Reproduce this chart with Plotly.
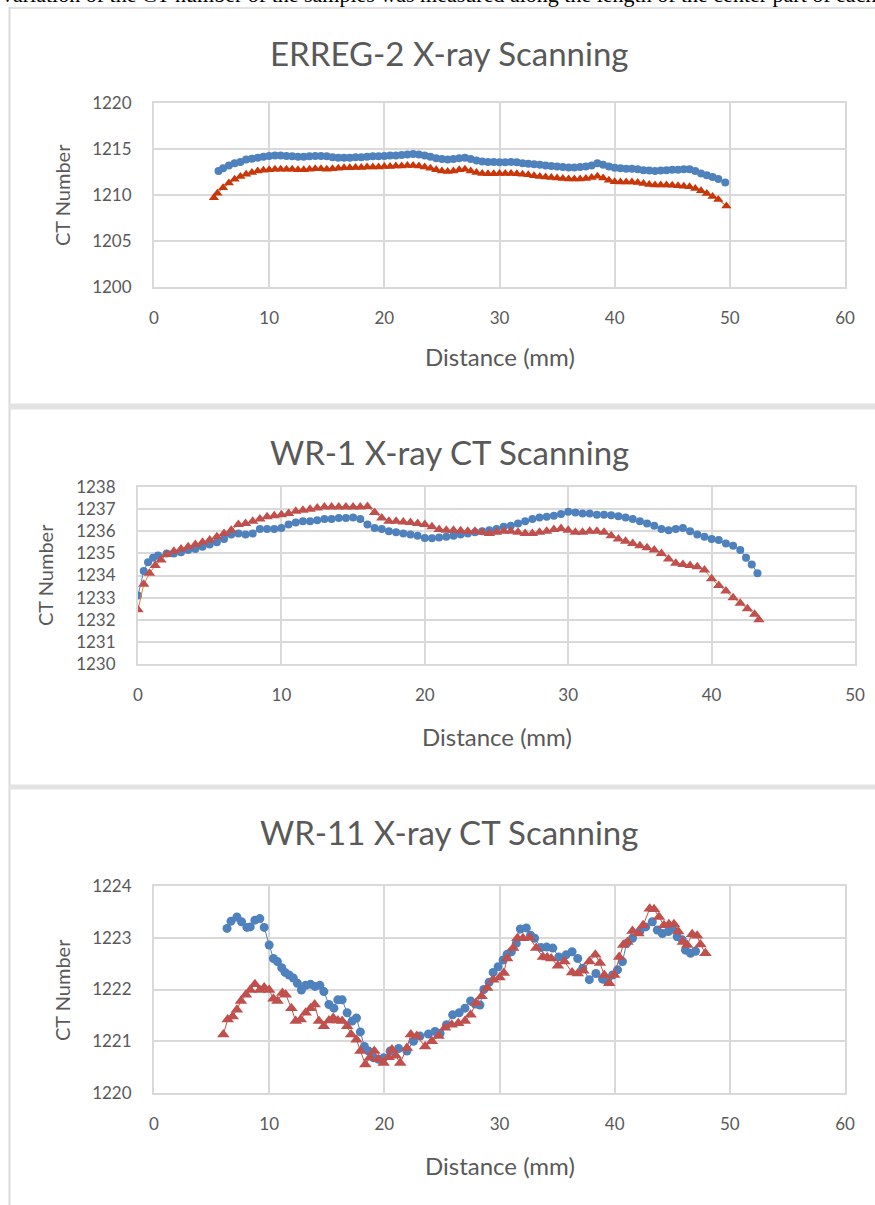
import plotly.graph_objects as go

# ---------------- Data ----------------
# Panel 1: ERREG-2
erreg_x_blue = [5.6, 6.0, 6.5, 7.0, 7.5, 8.0, 8.5, 9.0, 9.5, 10.0, 10.5, 11.0, 11.5, 12.0, 12.5, 13.0, 13.5, 14.0, 14.5, 15.0,
                15.5, 16.0, 16.5, 17.0, 17.5, 18.0, 18.5, 19.0, 19.5, 20.0, 20.5, 21.0, 21.5, 22.0, 22.5, 23.0, 23.5, 24.0, 24.5, 25.0,
                25.5, 26.0, 26.5, 27.0, 27.5, 28.0, 28.5, 29.0, 29.5, 30.0, 30.5, 31.0, 31.5, 32.0, 32.5, 33.0, 33.5, 34.0, 34.5, 35.0,
                35.5, 36.0, 36.5, 37.0, 37.5, 38.0, 38.5, 39.0, 39.5, 40.0, 40.5, 41.0, 41.5, 42.0, 42.5, 43.0, 43.5, 44.0, 44.5, 45.0,
                45.5, 46.0, 46.5, 47.0, 47.5, 48.0, 48.5, 49.0, 49.6]
erreg_y_blue = [1212.6, 1212.9, 1213.2, 1213.45, 1213.6, 1213.85, 1213.95, 1214.05, 1214.15, 1214.25, 1214.3, 1214.3, 1214.25, 1214.2, 1214.15, 1214.15, 1214.2, 1214.25, 1214.25, 1214.2,
                1214.1, 1214.05, 1214.05, 1214.05, 1214.1, 1214.1, 1214.15, 1214.2, 1214.2, 1214.25, 1214.3, 1214.3, 1214.35, 1214.4, 1214.45, 1214.4, 1214.3, 1214.15, 1214.0, 1213.9,
                1213.85, 1213.9, 1214.0, 1214.05, 1213.9, 1213.75, 1213.65, 1213.6, 1213.6, 1213.55, 1213.55, 1213.6, 1213.55, 1213.45, 1213.4, 1213.35, 1213.3, 1213.2, 1213.15, 1213.1,
                1213.05, 1213.0, 1213.0, 1213.05, 1213.1, 1213.2, 1213.45, 1213.3, 1213.1, 1212.95, 1212.9, 1212.85, 1212.85, 1212.8, 1212.7, 1212.65, 1212.6, 1212.65, 1212.7, 1212.75,
                1212.75, 1212.8, 1212.8, 1212.6, 1212.35, 1212.15, 1211.95, 1211.75, 1211.35]
erreg_x_red = [5.2, 5.5, 6.0, 6.5, 7.0, 7.5, 8.0, 8.5, 9.0, 9.5, 10.0, 10.5, 11.0, 11.5, 12.0, 12.5, 13.0, 13.5, 14.0, 14.5,
               15.0, 15.5, 16.0, 16.5, 17.0, 17.5, 18.0, 18.5, 19.0, 19.5, 20.0, 20.5, 21.0, 21.5, 22.0, 22.5, 23.0, 23.5, 24.0, 24.5,
               25.0, 25.5, 26.0, 26.5, 27.0, 27.5, 28.0, 28.5, 29.0, 29.5, 30.0, 30.5, 31.0, 31.5, 32.0, 32.5, 33.0, 33.5, 34.0, 34.5,
               35.0, 35.5, 36.0, 36.5, 37.0, 37.5, 38.0, 38.5, 39.0, 39.5, 40.0, 40.5, 41.0, 41.5, 42.0, 42.5, 43.0, 43.5, 44.0, 44.5,
               45.0, 45.5, 46.0, 46.5, 47.0, 47.5, 48.0, 48.5, 49.0, 49.7]
erreg_y_red = [1209.7, 1210.2, 1210.8, 1211.3, 1211.7, 1212.0, 1212.25, 1212.45, 1212.6, 1212.7, 1212.75, 1212.8, 1212.8, 1212.8, 1212.8, 1212.75, 1212.75, 1212.8, 1212.85, 1212.85,
               1212.8, 1212.85, 1212.9, 1212.95, 1212.95, 1213.0, 1213.0, 1213.05, 1213.05, 1213.05, 1213.1, 1213.1, 1213.15, 1213.15, 1213.2, 1213.2, 1213.15, 1213.05, 1212.9, 1212.75,
               1212.6, 1212.55, 1212.6, 1212.75, 1212.8, 1212.6, 1212.45, 1212.35, 1212.3, 1212.3, 1212.35, 1212.35, 1212.35, 1212.3, 1212.25, 1212.2, 1212.1, 1212.0, 1211.95, 1211.9,
               1211.85, 1211.8, 1211.75, 1211.75, 1211.75, 1211.8, 1211.9, 1212.05, 1211.85, 1211.6, 1211.45, 1211.4, 1211.4, 1211.4, 1211.35, 1211.25, 1211.15, 1211.1, 1211.1, 1211.1,
               1211.05, 1211.0, 1210.95, 1210.9, 1210.7, 1210.45, 1210.15, 1209.85, 1209.5, 1208.8]

# Panel 2: WR-1
wr1_x_blue = [0.0, 0.4, 0.7, 1.05, 1.4, 2.0, 2.5, 3.0, 3.5, 4.0, 4.5, 5.0, 5.5, 6.0, 6.5, 7.0, 7.5, 8.0, 8.5, 9.0,
              9.5, 10.0, 10.5, 11.0, 11.5, 12.0, 12.5, 13.0, 13.5, 14.0, 14.5, 15.0, 15.5, 16.0, 16.5, 17.0, 17.5, 18.0, 18.5, 19.0,
              19.5, 20.0, 20.5, 21.0, 21.5, 22.0, 22.5, 23.0, 23.5, 24.0, 24.5, 25.0, 25.5, 26.0, 26.5, 27.0, 27.5, 28.0, 28.5, 29.0,
              29.5, 30.0, 30.5, 31.0, 31.5, 32.0, 32.5, 33.0, 33.5, 34.0, 34.5, 35.0, 35.5, 36.0, 36.5, 37.0, 37.5, 38.0, 38.5, 39.0,
              39.5, 40.0, 40.5, 41.0, 41.5, 42.0, 42.4, 42.8, 43.2]
wr1_y_blue = [1233.1, 1234.2, 1234.6, 1234.8, 1234.9, 1235.0, 1235.0, 1235.05, 1235.15, 1235.2, 1235.3, 1235.4, 1235.5, 1235.65, 1235.85, 1235.9, 1235.85, 1235.9, 1236.1, 1236.1,
              1236.1, 1236.15, 1236.3, 1236.4, 1236.45, 1236.45, 1236.5, 1236.55, 1236.55, 1236.6, 1236.6, 1236.62, 1236.55, 1236.3, 1236.15, 1236.1, 1236.0, 1235.95, 1235.9, 1235.85,
              1235.8, 1235.7, 1235.68, 1235.72, 1235.75, 1235.8, 1235.85, 1235.9, 1235.95, 1236.0, 1236.05, 1236.1, 1236.2, 1236.25, 1236.35, 1236.45, 1236.55, 1236.62, 1236.65, 1236.7,
              1236.78, 1236.88, 1236.85, 1236.8, 1236.8, 1236.75, 1236.75, 1236.72, 1236.68, 1236.62, 1236.55, 1236.45, 1236.35, 1236.25, 1236.1, 1236.05, 1236.1, 1236.15, 1236.0, 1235.85,
              1235.75, 1235.65, 1235.6, 1235.45, 1235.35, 1235.15, 1234.8, 1234.5, 1234.1]
wr1_x_red = [0.0, 0.4, 0.8, 1.2, 1.6, 2.0, 2.5, 3.0, 3.5, 4.0, 4.5, 5.0, 5.5, 6.0, 6.5, 7.0, 7.5, 8.0, 8.5, 9.0,
             9.5, 10.0, 10.5, 11.0, 11.5, 12.0, 12.5, 13.0, 13.5, 14.0, 14.5, 15.0, 15.5, 16.0, 16.5, 17.0, 17.5, 18.0, 18.5, 19.0,
             19.5, 20.0, 20.5, 21.0, 21.5, 22.0, 22.5, 23.0, 23.5, 24.0, 24.5, 25.0, 25.5, 26.0, 26.5, 27.0, 27.5, 28.0, 28.5, 29.0,
             29.5, 30.0, 30.5, 31.0, 31.5, 32.0, 32.5, 33.0, 33.5, 34.0, 34.5, 35.0, 35.5, 36.0, 36.5, 37.0, 37.5, 38.0, 38.5, 39.0,
             39.5, 40.0, 40.5, 41.0, 41.5, 42.0, 42.5, 43.0, 43.3]
wr1_y_red = [1232.45, 1233.6, 1234.1, 1234.45, 1234.7, 1234.95, 1235.1, 1235.2, 1235.3, 1235.4, 1235.5, 1235.6, 1235.75, 1235.9, 1236.05, 1236.3, 1236.35, 1236.45, 1236.55, 1236.65,
             1236.7, 1236.75, 1236.8, 1236.9, 1236.95, 1237.0, 1237.05, 1237.1, 1237.1, 1237.1, 1237.1, 1237.1, 1237.1, 1237.12, 1236.85, 1236.6, 1236.45, 1236.45, 1236.42, 1236.4,
             1236.35, 1236.3, 1236.2, 1236.08, 1236.05, 1236.05, 1236.02, 1236.0, 1236.0, 1235.95, 1235.9, 1235.95, 1236.0, 1236.0, 1235.95, 1235.9, 1235.9, 1235.95, 1236.0, 1236.08,
             1236.12, 1236.05, 1235.95, 1235.95, 1236.0, 1236.0, 1235.95, 1235.8, 1235.65, 1235.55, 1235.45, 1235.35, 1235.25, 1235.15, 1235.0, 1234.75, 1234.55, 1234.5, 1234.45, 1234.4,
             1234.25, 1233.85, 1233.55, 1233.3, 1233.0, 1232.75, 1232.5, 1232.25, 1232.0]

# Panel 3: WR-11
wr11_x_blue = [6.34, 6.69, 7.2, 7.6, 8.07, 8.36, 8.76, 9.19, 9.57, 10.0, 10.37, 10.72, 11.09, 11.38, 11.73, 12.1, 12.45, 12.8, 13.17, 13.6,
               13.98, 14.4, 14.75, 15.19, 15.62, 15.96, 16.34, 16.77, 17.2, 17.58, 17.92, 18.27, 18.64, 19.07, 19.5, 19.94, 20.5, 21.24, 21.96, 22.53,
               23.1, 23.83, 24.4, 24.84, 25.4, 25.93, 26.5, 27.0, 27.49, 27.9, 28.3, 28.64, 29.1, 29.45, 29.88, 30.31, 30.66, 31.03, 31.46, 31.81,
               32.33, 32.7, 33.05, 33.62, 34.1, 34.63, 35.15, 35.78, 36.3, 36.79, 37.22, 37.8, 38.37, 38.95, 39.38, 39.82, 40.25, 40.68, 41.03, 41.55,
               42.18, 42.7, 43.27, 43.7, 44.14, 44.66, 45.0, 45.43, 45.87, 46.15, 46.59, 47.02]
wr11_y_blue = [1223.18, 1223.32, 1223.40, 1223.31, 1223.20, 1223.21, 1223.34, 1223.37, 1223.20, 1222.86, 1222.60, 1222.54, 1222.42, 1222.33, 1222.28, 1222.22, 1222.12, 1221.99, 1222.08, 1222.10,
               1222.06, 1222.08, 1221.96, 1221.71, 1221.64, 1221.80, 1221.80, 1221.55, 1221.39, 1221.45, 1221.18, 1220.90, 1220.81, 1220.68, 1220.65, 1220.68, 1220.81, 1220.86, 1220.81, 1221.00,
               1221.10, 1221.14, 1221.19, 1221.15, 1221.32, 1221.51, 1221.55, 1221.64, 1221.78, 1221.72, 1221.70, 1222.00, 1222.14, 1222.33, 1222.44, 1222.57, 1222.68, 1222.73, 1222.89, 1223.17,
               1223.19, 1223.05, 1222.99, 1222.81, 1222.82, 1222.80, 1222.63, 1222.67, 1222.73, 1222.60, 1222.41, 1222.19, 1222.31, 1222.20, 1222.15, 1222.28, 1222.38, 1222.54, 1222.89, 1222.99,
               1223.12, 1223.21, 1223.31, 1223.15, 1223.08, 1223.12, 1223.18, 1223.02, 1222.96, 1222.76, 1222.70, 1222.74]
wr11_x_red = [6.02, 6.4, 6.83, 7.2, 7.55, 7.98, 8.36, 8.76, 9.19, 9.57, 10.0, 10.37, 10.72, 11.15, 11.44, 11.93, 12.3, 12.74, 13.17, 13.6,
              13.95, 14.32, 14.75, 15.19, 15.56, 15.96, 16.34, 16.77, 17.12, 17.58, 17.92, 18.35, 18.73, 19.13, 19.5, 19.94, 20.37, 20.66, 21.0, 21.38,
              21.96, 22.3, 22.82, 23.54, 24.12, 24.7, 25.27, 25.85, 26.42, 27.0, 27.49, 27.95, 28.44, 28.93, 29.45, 30.0, 30.37, 30.66, 31.18, 31.55,
              32.04, 32.62, 33.19, 33.77, 34.15, 34.49, 35.07, 35.64, 36.3, 36.79, 37.28, 37.8, 38.32, 38.72, 39.1, 39.53, 39.96, 40.39, 40.74, 41.11,
              41.55, 42.06, 42.47, 43.04, 43.42, 43.85, 44.28, 44.71, 45.15, 45.52, 45.92, 46.3, 46.73, 47.16, 47.45, 47.88]
wr11_y_red = [1221.13, 1221.42, 1221.48, 1221.61, 1221.78, 1221.90, 1221.99, 1222.10, 1221.99, 1222.04, 1221.99, 1221.82, 1221.78, 1221.93, 1221.90, 1221.64, 1221.39, 1221.42, 1221.55, 1221.64,
              1221.71, 1221.39, 1221.29, 1221.40, 1221.45, 1221.40, 1221.39, 1221.29, 1221.13, 1221.03, 1220.81, 1220.55, 1220.68, 1220.81, 1220.65, 1220.58, 1220.69, 1220.84, 1220.72, 1220.58,
              1220.87, 1221.13, 1221.10, 1220.90, 1221.00, 1221.10, 1221.26, 1221.32, 1221.35, 1221.39, 1221.51, 1221.74, 1221.87, 1222.03, 1222.19, 1222.23, 1222.32, 1222.60, 1222.80, 1222.99,
              1222.99, 1223.00, 1222.80, 1222.63, 1222.62, 1222.60, 1222.46, 1222.54, 1222.33, 1222.31, 1222.36, 1222.54, 1222.67, 1222.51, 1222.28, 1222.12, 1222.28, 1222.63, 1222.86, 1222.92,
              1223.13, 1223.08, 1223.24, 1223.56, 1223.55, 1223.40, 1223.24, 1223.26, 1223.26, 1223.12, 1222.92, 1222.86, 1223.07, 1223.04, 1222.87, 1222.70]

titles = ["ERREG-2 X-ray Scanning", "WR-1 X-ray CT Scanning", "WR-11 X-ray CT Scanning"]
x_label = "Distance (mm)"
y_label = "CT Number"
x_ranges = [[0, 60], [0, 50], [0, 60]]
y_ranges = [[1200, 1220], [1230, 1238], [1220, 1224]]
y_dticks = [5, 1, 1]
page_text = "variation of the CT number of the samples was measured along the length of the center part of each sample."

# ---------------- Layout geometry (pixels) ----------------
W, H = 875, 1205
plot_boxes = [  # (left, right, top, bottom)
    (154, 845, 103, 287),
    (138, 855, 487, 664),
    (154, 845, 886, 1093),
]
title_y = [53, 452, 832]
xlab_pos = [(500, 356), (497, 736), (500, 1165)]
ylab_pos = [(62, 195), (45, 575), (62, 990)]

BLUE = "#4F81BD"
RED1 = "#C8370A"
RED = "#C0504D"
TXT = "#595959"
GRID = "#D9D9D9"
FONT = "Lato"

fig = go.Figure()

series = [
    (erreg_x_blue, erreg_y_blue, erreg_x_red, erreg_y_red, RED1, RED1, 8, 9),
    (wr1_x_blue, wr1_y_blue, wr1_x_red, wr1_y_red, RED, "#ED7D31", 8, 10),
    (wr11_x_blue, wr11_y_blue, wr11_x_red, wr11_y_red, RED, RED, 9, 11),
]

for i, (xb, yb, xr, yr, rc, rlc, sb, sr) in enumerate(series):
    ax = "" if i == 0 else str(i + 1)
    fig.add_trace(go.Scatter(x=xb, y=yb, mode="lines+markers", xaxis="x" + ax, yaxis="y" + ax,
                             line=dict(color=BLUE, width=1),
                             marker=dict(symbol="circle", size=sb, color=BLUE),
                             showlegend=False, name="Series 1"))
    fig.add_trace(go.Scatter(x=xr, y=yr, mode="lines+markers", xaxis="x" + ax, yaxis="y" + ax,
                             line=dict(color=rlc, width=1),
                             marker=dict(symbol="triangle-up", size=sr, color=rc),
                             showlegend=False, name="Series 2"))

layout = dict(width=W, height=H, margin=dict(l=0, r=0, t=0, b=0, pad=0, autoexpand=False),
              paper_bgcolor="white", plot_bgcolor="white",
              font=dict(family=FONT, color=TXT))

annotations = []
for i, (l, r, t, b) in enumerate(plot_boxes):
    ax = "" if i == 0 else str(i + 1)
    common = dict(showgrid=True, gridcolor=GRID, gridwidth=2, zeroline=False,
                  showline=True, linecolor=GRID, linewidth=2, mirror=True,
                  ticks="", tickfont=dict(size=17, color=TXT, family=FONT),
                  automargin=False, fixedrange=True)
    layout["xaxis" + ax] = dict(domain=[l / W, r / W], range=x_ranges[i], dtick=10, tick0=0,
                                ticklabelstandoff=15, anchor="y" + ax, **common)
    layout["yaxis" + ax] = dict(domain=[1 - b / H, 1 - t / H], range=y_ranges[i], dtick=y_dticks[i],
                                tick0=y_ranges[i][0], ticklabelstandoff=17, anchor="x" + ax, **common)
    annotations.append(dict(text=titles[i], x=449 / W, y=1 - title_y[i] / H, xref="paper", yref="paper",
                            xanchor="center", yanchor="middle", showarrow=False,
                            font=dict(size=33, color=TXT, family=FONT)))
    annotations.append(dict(text=x_label, x=xlab_pos[i][0] / W, y=1 - xlab_pos[i][1] / H, xref="paper",
                            yref="paper", xanchor="center", yanchor="middle", showarrow=False,
                            font=dict(size=24, color=TXT, family=FONT)))
    annotations.append(dict(text=y_label, x=ylab_pos[i][0] / W, y=1 - ylab_pos[i][1] / H, xref="paper",
                            yref="paper", xanchor="center", yanchor="middle", showarrow=False, textangle=-90,
                            font=dict(size=20, color=TXT, family=FONT)))

# cropped document text line at the very top (only its lower edge shows)
annotations.append(dict(text=page_text,
                        x=0.0, y=1 - 9 / H, xref="paper", yref="paper", xanchor="left", yanchor="bottom",
                        showarrow=False, font=dict(size=22, color="black", family="Liberation Serif")))

shapes = [
    # left border of the chart boxes
    dict(type="line", xref="paper", yref="paper", x0=9.5 / W, x1=9.5 / W, y0=0, y1=1 - 7 / H,
         line=dict(color=GRID, width=2)),
    # top border
    dict(type="line", xref="paper", yref="paper", x0=9.5 / W, x1=1, y0=1 - 8 / H, y1=1 - 8 / H,
         line=dict(color=GRID, width=1.5)),
    # separators between boxes
    dict(type="rect", xref="paper", yref="paper", x0=9.5 / W, x1=1, y0=1 - 409.5 / H, y1=1 - 403.5 / H,
         fillcolor="#E3E3E3", line=dict(width=0)),
    dict(type="rect", xref="paper", yref="paper", x0=9.5 / W, x1=1, y0=1 - 789.5 / H, y1=1 - 784.5 / H,
         fillcolor="#E3E3E3", line=dict(width=0)),
]

layout["annotations"] = annotations
layout["shapes"] = shapes
fig.update_layout(**layout)

fig.write_html("out.html", config={"displayModeBar": False},
               post_script="document.body.style.margin='0';document.body.style.overflow='hidden';")
